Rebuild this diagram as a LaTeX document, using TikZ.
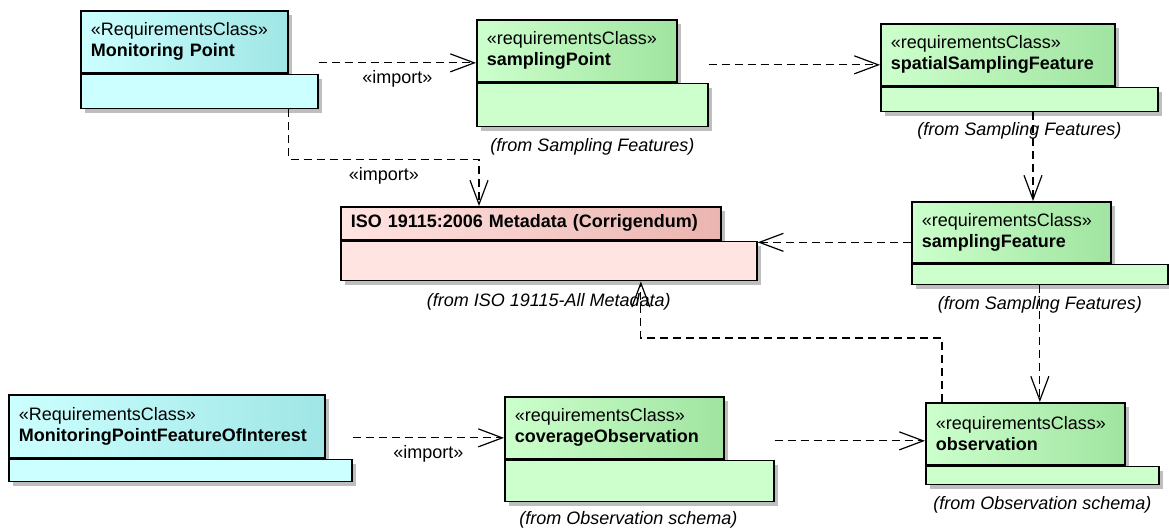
\documentclass[tikz,border=0pt]{standalone}
\usepackage{fontspec}
\setmainfont{Liberation Sans}
\usetikzlibrary{positioning,arrows.meta,shadows}
\definecolor{CCyanLight}{HTML}{CCFFFF}
\definecolor{CCyanDark}{HTML}{A0E6E6}
\definecolor{CGreenLight}{HTML}{CCFFCC}
\definecolor{CGreenDark}{HTML}{A0E4A0}
\definecolor{CPinkLight}{HTML}{FFE4E1}
\definecolor{CPinkDark}{HTML}{EBB4B0}
\definecolor{CShadow}{HTML}{BEBEBE}

\begin{document}
\begin{tikzpicture}[x=1pt, y=-1pt,
    font=\fontsize{18}{21}\selectfont,
    pkgshadow/.style={drop shadow={shadow xshift=4pt, shadow yshift=-4pt, fill=CShadow, opacity=1}},
    pkgtab/.style={draw, line width=1.7pt, anchor=north west, inner xsep=10pt, inner ysep=0pt, align=left, pkgshadow},
    pkgbody/.style={draw, line width=1.7pt, anchor=north west, inner sep=0pt, pkgshadow},
    cyantab/.style={pkgtab, left color=CCyanLight, middle color=CCyanLight, right color=CCyanDark},
    greentab/.style={pkgtab, left color=CGreenLight, middle color=CGreenLight, right color=CGreenDark},
    pinktab/.style={pkgtab, left color=CPinkLight, middle color=CPinkLight, right color=CPinkDark},
    cyanbody/.style={pkgbody, fill=CCyanLight},
    greenbody/.style={pkgbody, fill=CGreenLight},
    pinkbody/.style={pkgbody, fill=CPinkLight},
    fromlbl/.style={font=\fontsize{18}{21}\selectfont\itshape},
    dep/.style={draw, line width=1.2pt, dash pattern=on 8pt off 5pt, -{Straight Barb[length=24pt,width=18pt]}}
]
  \useasboundingbox (0,0) rectangle (1169,529);

  % packages
  \node[cyantab, text width=187pt, minimum height=62pt] (mpT) at (80,10) {«RequirementsClass»\\\textbf{Monitoring Point}};
  \node[cyanbody, minimum width=237pt, minimum height=34pt] (mpB) at (mpT.south west) {};

  \node[greentab, text width=180pt, minimum height=62pt] (spT) at (476,19) {«requirementsClass»\\\textbf{samplingPoint}};
  \node[greenbody, minimum width=231pt, minimum height=43pt] (spB) at (spT.south west) {};
  \node[fromlbl, below=8pt of spB] (spL) {(from Sampling Features)};

  \node[greentab, text width=214pt, minimum height=62pt] (ssfT) at (880,23) {«requirementsClass»\\\textbf{spatialSamplingFeature}};
  \node[greenbody, minimum width=277pt, minimum height=24pt] (ssfB) at (ssfT.south west) {};
  \node[fromlbl, below=7pt of ssfB] (ssfL) {(from Sampling Features)};

  \node[pinktab, text width=360pt, minimum height=33pt] (isoT) at (340,206) {\textbf{ISO 19115:2006 Metadata (Corrigendum)}};
  \node[pinkbody, minimum width=416pt, minimum height=39pt] (isoB) at (isoT.south west) {};
  \node[fromlbl, below=9pt of isoB] (isoL) {(from ISO 19115-All Metadata)};

  \node[greentab, text width=179pt, minimum height=61pt] (sfT) at (911,201) {«requirementsClass»\\\textbf{samplingFeature}};
  \node[greenbody, minimum width=256pt, minimum height=20pt] (sfB) at (sfT.south west) {};
  \node[fromlbl, below=8pt of sfB] (sfL) {(from Sampling Features)};

  \node[cyantab, text width=296pt, minimum height=63pt] (mpfoiT) at (8,394) {«RequirementsClass»\\\textbf{MonitoringPointFeatureOfInterest}};
  \node[cyanbody, minimum width=343pt, minimum height=22pt] (mpfoiB) at (mpfoiT.south west) {};

  \node[greentab, text width=199pt, minimum height=62pt] (coT) at (504,396) {«requirementsClass»\\\textbf{coverageObservation}};
  \node[greenbody, minimum width=269pt, minimum height=41pt] (coB) at (coT.south west) {};
  \node[fromlbl, below=6pt of coB, xshift=-11pt] (coL) {(from Observation schema)};

  \node[greentab, text width=179pt, minimum height=62pt] (obsT) at (925,402) {«requirementsClass»\\\textbf{observation}};
  \node[greenbody, minimum width=233pt, minimum height=18pt] (obsB) at (obsT.south west) {};
  \node[fromlbl, below=8pt of obsB] (obsL) {(from Observation schema)};

  % dependencies
  \coordinate (spIn) at ([yshift=-12pt]spT.west);
  \draw[dep] (mpB.east |- spIn) -- node[below=4pt] (impA) {«import»} (spIn);
  \draw[dep] (mpT.east |- mpB.south) -- ++(0,50) -| node[pos=0.25, below=4pt] (impB) {«import»} ([xshift=139pt]isoT.north west);
  \coordinate (ssfIn) at ([yshift=-10pt]ssfT.west);
  \draw[dep] (spB.east |- ssfIn) -- (ssfIn);
  \coordinate (sfIn) at ([xshift=122pt]sfT.north west);
  \draw[dep] (ssfB.south -| sfIn) -- (sfIn);
  \coordinate (sfOut) at ([yshift=-10pt]sfT.west);
  \draw[dep] (sfOut) -- (isoB.east |- sfOut);
  \draw[dep] (sfB.south) -- (sfB.south |- obsT.north);
  \draw[dep] ([xshift=17pt]obsT.north west) -- ++(0,-64) -| ([xshift=92pt]isoB.south);
  \coordinate (coIn) at ([yshift=-10pt]coT.west);
  \draw[dep] (mpfoiB.east |- coIn) -- node[below=4pt] (impC) {«import»} (coIn);
  \coordinate (obsIn) at ([yshift=-7pt]obsT.west);
  \draw[dep] (coB.east |- obsIn) -- (obsIn);
\end{tikzpicture}
\end{document}
